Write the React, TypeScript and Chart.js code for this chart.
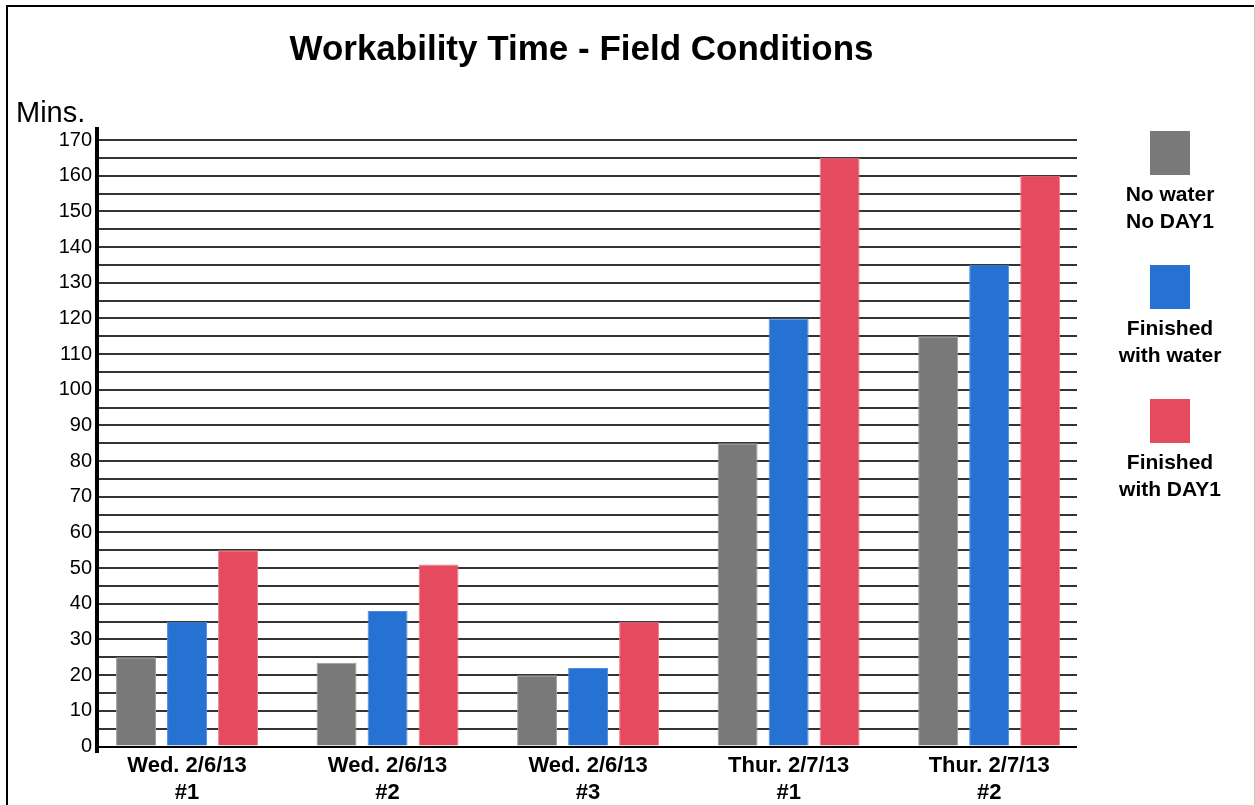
import React, { useEffect, useRef } from "react";
import { Chart, registerables } from "chart.js";

Chart.register(...registerables);

const FONT = '"Liberation Sans", Arial, Helvetica, sans-serif';

const TITLE = "Workability Time - Field Conditions";
const Y_UNIT = "Mins.";

const CATEGORY_LINES: string[][] = [
  ["Wed. 2/6/13", "#1"],
  ["Wed. 2/6/13", "#2"],
  ["Wed. 2/6/13", "#3"],
  ["Thur. 2/7/13", "#1"],
  ["Thur. 2/7/13", "#2"],
];

const NO_WATER = [25, 23.5, 20, 85, 115];
const WITH_WATER = [35, 38, 22, 120, 135];
const WITH_DAY1 = [55, 51, 35, 165, 160];

const SERIES_LINES: string[][] = [
  ["No water", "No DAY1"],
  ["Finished", "with water"],
  ["Finished", "with DAY1"],
];

const SERIES_COLORS = ["#797979", "#2672d3", "#e54a5e"];
const SERIES_BORDERS = ["#a0a0a0", "#4d8ce0", "#f07f8d"];

const Y_TICK_VALUES = Array.from({ length: 35 }, (_, i) => i * 5);

const decorPlugin = {
  id: "decor",
  beforeDraw(chart: any) {
    const ctx = chart.ctx;
    ctx.save();
    ctx.fillStyle = "#ffffff";
    ctx.fillRect(0, 0, chart.width, chart.height);
    ctx.restore();
  },
  afterDraw(chart: any) {
    const ctx = chart.ctx;
    ctx.save();
    // frame
    ctx.strokeStyle = "#000";
    ctx.lineWidth = 2;
    ctx.beginPath();
    ctx.moveTo(7, chart.height);
    ctx.lineTo(7, 6);
    ctx.lineTo(1254, 6);
    ctx.stroke();
    ctx.strokeStyle = "#c8c8c8";
    ctx.lineWidth = 1;
    ctx.beginPath();
    ctx.moveTo(1254.5, 7);
    ctx.lineTo(1254.5, chart.height);
    ctx.stroke();

    // title
    ctx.fillStyle = "#000";
    ctx.textBaseline = "alphabetic";
    ctx.textAlign = "center";
    ctx.font = `bold 35px ${FONT}`;
    ctx.fillText(TITLE, 581.5, 60);

    // y unit
    ctx.textAlign = "left";
    ctx.font = `29px ${FONT}`;
    ctx.fillText(Y_UNIT, 16, 122);

    // legend
    chart.data.datasets.forEach((ds: any, i: number) => {
      const top = 131 + i * 134;
      ctx.fillStyle = ds.backgroundColor;
      ctx.fillRect(1150, top, 40, 44);
      ctx.fillStyle = "#000";
      ctx.font = `bold 21px ${FONT}`;
      ctx.textAlign = "center";
      SERIES_LINES[i].forEach((line, j) => {
        ctx.fillText(line, 1170, top + 70 + j * 26.5);
      });
    });
    ctx.restore();
  },
};

export default function App() {
  const ref = useRef<HTMLCanvasElement>(null);

  useEffect(() => {
    document.body.style.margin = "0";
    document.body.style.overflow = "hidden";
    const series = [NO_WATER, WITH_WATER, WITH_DAY1];
    const chart = new Chart(ref.current as HTMLCanvasElement, {
      type: "bar",
      data: {
        datasets: series.map((vals, i) => ({
          label: SERIES_LINES[i].join(" "),
          data: vals.map((v, k) => ({ x: k, y: v })),
          backgroundColor: SERIES_COLORS[i],
          borderColor: SERIES_BORDERS[i],
          borderWidth: 1,
          categoryPercentage: 0.763,
          barPercentage: 0.784,
        })),
      },
      options: {
        responsive: false,
        animation: false,
        devicePixelRatio: 1,
        layout: { padding: { top: 129, right: 178, left: 0, bottom: 0 } },
        plugins: {
          legend: { display: false },
          tooltip: { enabled: false },
          title: { display: false },
        },
        scales: {
          x: {
            type: "linear",
            min: -0.449,
            max: 4.438,
            offset: false,
            afterBuildTicks: (s: any) => {
              s.ticks = CATEGORY_LINES.map((_, i) => ({ value: i }));
            },
            afterFit: (s: any) => {
              s.height = 53;
            },
            grid: { display: false, drawTicks: false },
            border: { display: false },
            ticks: {
              autoSkip: false,
              maxRotation: 0,
              padding: 1,
              color: "#000",
              font: { family: FONT, size: 22, weight: "bold", lineHeight: 1.2 },
              callback: (v: any) => CATEGORY_LINES[Number(v)] ?? "",
            },
          },
          y: {
            type: "linear",
            min: -1.54,
            max: 173.08,
            afterBuildTicks: (s: any) => {
              s.ticks = Y_TICK_VALUES.map((v) => ({ value: v }));
            },
            afterFit: (s: any) => {
              s.width = 97;
            },
            grid: {
              color: (c: any) => (c.tick && c.tick.value === 0 ? "#000" : "#333"),
              lineWidth: 2,
              drawTicks: false,
            },
            border: { display: true, color: "#000", width: 4 },
            ticks: {
              autoSkip: false,
              padding: 5,
              color: "#000",
              font: { family: FONT, size: 20 },
              callback: (v: any) => (Number(v) % 10 === 0 ? String(v) : ""),
            },
          },
        },
      },
      plugins: [decorPlugin],
    } as any);
    return () => chart.destroy();
  }, []);

  return (
    <div style={{ width: 1255, height: 805, position: "relative", background: "#fff" }}>
      <canvas ref={ref} width={1255} height={805} style={{ display: "block" }} />
    </div>
  );
}
